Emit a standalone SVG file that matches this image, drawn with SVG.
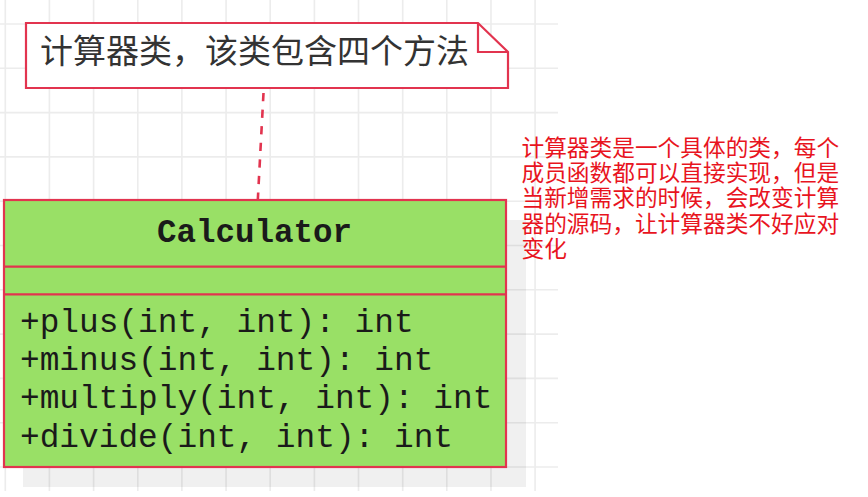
<svg xmlns="http://www.w3.org/2000/svg" width="868" height="497" viewBox="0 0 868 497">
  <style>
    .grid line { stroke: #ececec; stroke-width: 1.6; }
    .red { stroke: #e2344f; stroke-width: 2.2; }
    .mono { font-family: "Liberation Mono", "DejaVu Sans Mono", monospace; fill: #1a1a1a; }
    .cjk { font-family: "Noto Sans CJK SC", "Noto Sans", sans-serif; }
  </style>
  <rect x="0" y="0" width="868" height="497" fill="#ffffff"/>
  <g class="grid">
    <line x1="5.3" y1="0" x2="5.3" y2="491"/>
    <line x1="49.4" y1="0" x2="49.4" y2="491"/>
    <line x1="93.6" y1="0" x2="93.6" y2="491"/>
    <line x1="137.8" y1="0" x2="137.8" y2="491"/>
    <line x1="181.9" y1="0" x2="181.9" y2="491"/>
    <line x1="226.1" y1="0" x2="226.1" y2="491"/>
    <line x1="270.2" y1="0" x2="270.2" y2="491"/>
    <line x1="314.4" y1="0" x2="314.4" y2="491"/>
    <line x1="358.5" y1="0" x2="358.5" y2="491"/>
    <line x1="402.7" y1="0" x2="402.7" y2="491"/>
    <line x1="446.8" y1="0" x2="446.8" y2="491"/>
    <line x1="491" y1="0" x2="491" y2="491"/>
    <line x1="535.1" y1="0" x2="535.1" y2="491"/>
    <line x1="0" y1="24" x2="558" y2="24"/>
    <line x1="0" y1="68.3" x2="558" y2="68.3"/>
    <line x1="0" y1="112.6" x2="558" y2="112.6"/>
    <line x1="0" y1="156.9" x2="558" y2="156.9"/>
    <line x1="0" y1="201.2" x2="558" y2="201.2"/>
    <line x1="0" y1="245.5" x2="558" y2="245.5"/>
    <line x1="0" y1="289.8" x2="558" y2="289.8"/>
    <line x1="0" y1="334.1" x2="558" y2="334.1"/>
    <line x1="0" y1="378.4" x2="558" y2="378.4"/>
    <line x1="0" y1="422.7" x2="558" y2="422.7"/>
    <line x1="0" y1="467" x2="558" y2="467"/>
  </g>

  <g id="connectors">
    <line x1="263.5" y1="93" x2="257.8" y2="200" stroke="#e2344f" stroke-width="2.6" stroke-dasharray="8.3 8.3"/>
  </g>

  <g id="note">
    <path d="M26,23 H478 L508,52 V88 H26 Z" fill="#ffffff" class="red" stroke-linejoin="miter"/>
    <path d="M478,23 V52 H508" fill="none" class="red"/>
    <text x="40" y="62.5" class="cjk" font-size="33" fill="#333333">计算器类，该类包含四个方法</text>
  </g>

  <g id="calculator">
    <rect x="23" y="220" width="503" height="267" fill="#000000" fill-opacity="0.06"/>
    <rect x="4" y="200" width="502" height="267" fill="#99e066" class="red"/>
    <line x1="4" y1="266.7" x2="506" y2="266.7" class="red"/>
    <line x1="4" y1="294.3" x2="506" y2="294.3" class="red"/>
    <text x="254.5" y="241.5" text-anchor="middle" class="mono" font-size="32.5" font-weight="bold">Calculator</text>
    <text x="20" y="331.7" class="mono" font-size="32.8">+plus(int, int): int</text>
    <text x="20" y="370" class="mono" font-size="32.8">+minus(int, int): int</text>
    <text x="20" y="408.3" class="mono" font-size="32.8">+multiply(int, int): int</text>
    <text x="20" y="447" class="mono" font-size="32.8">+divide(int, int): int</text>
  </g>

  <g id="comment" class="cjk" font-size="22.7" fill="#e8141e">
    <text x="521.5" y="155.5">计算器类是一个具体的类，每个</text>
    <text x="521.5" y="180.9">成员函数都可以直接实现，但是</text>
    <text x="521.5" y="206.3">当新增需求的时候，会改变计算</text>
    <text x="521.5" y="231.7">器的源码，让计算器类不好应对</text>
    <text x="521.5" y="257.1">变化</text>
  </g>
</svg>
